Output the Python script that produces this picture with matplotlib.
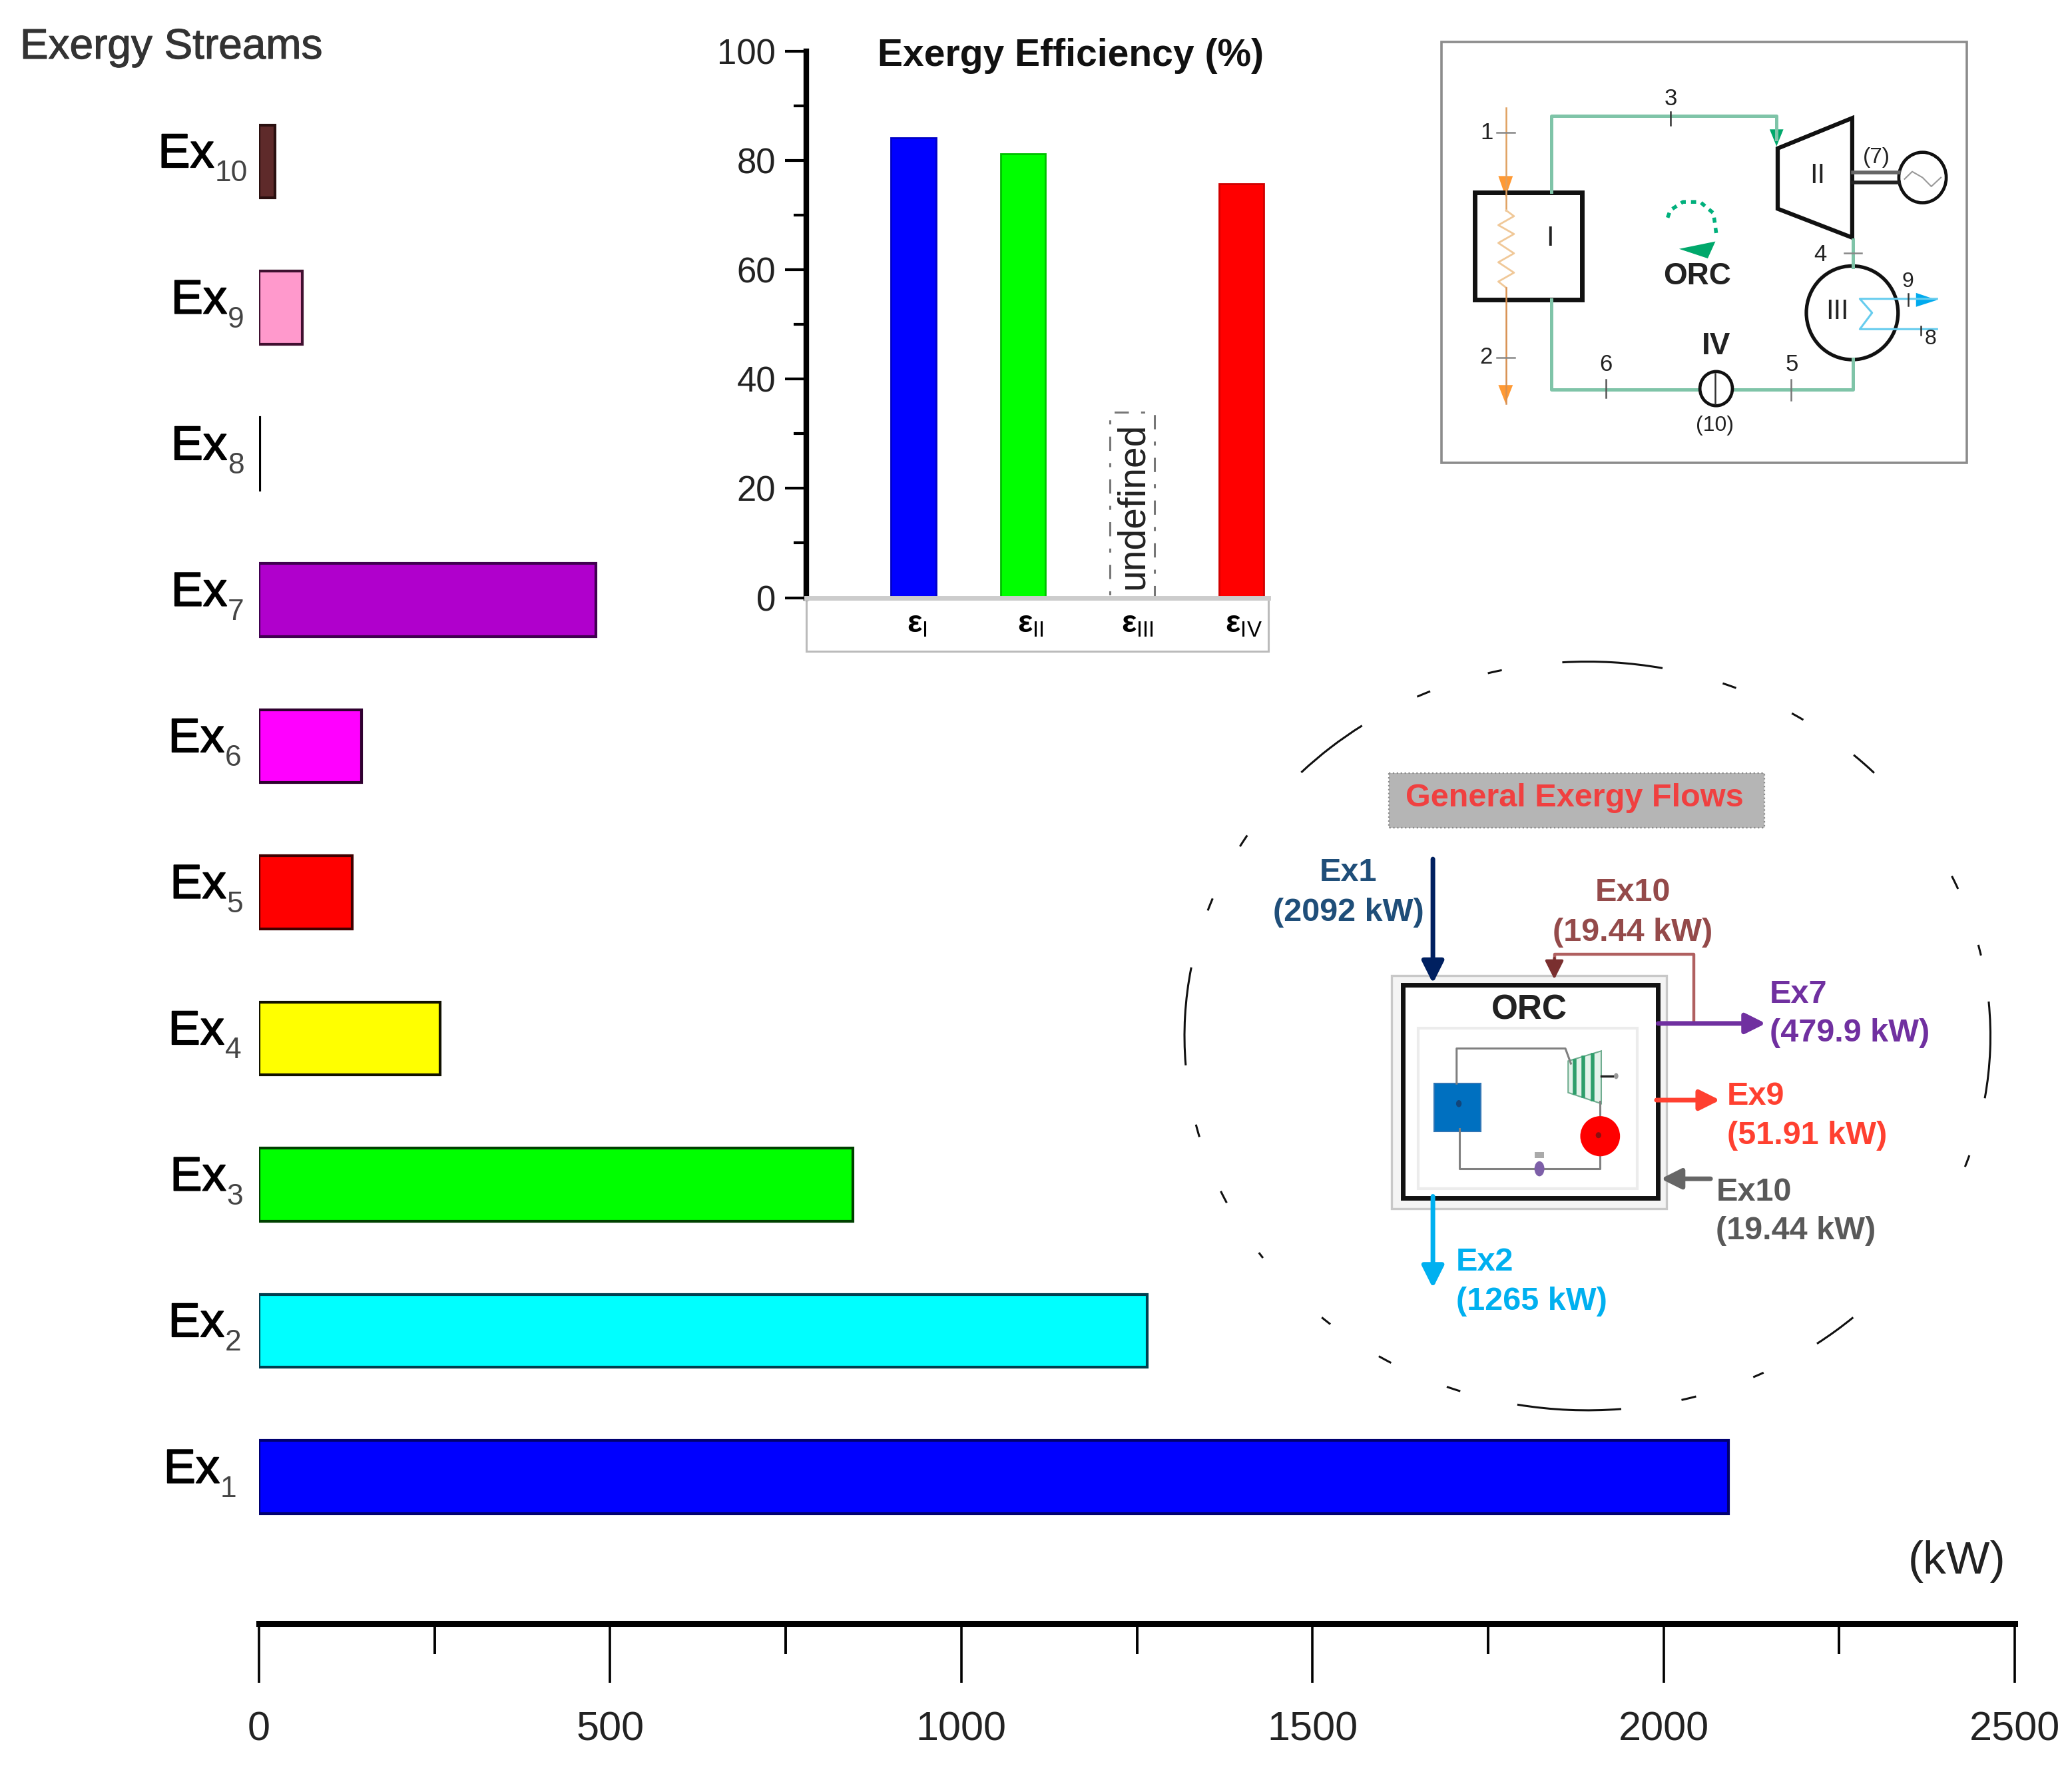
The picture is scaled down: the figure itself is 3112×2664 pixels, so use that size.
import matplotlib
matplotlib.use('Agg')
import matplotlib.pyplot as plt
import matplotlib.patheffects as pe
from matplotlib.patches import Rectangle, Ellipse, Arc, Polygon

plt.rcParams['font.family'] = ['Liberation Sans', 'DejaVu Sans']
plt.rcParams['mathtext.fontset'] = 'custom'
plt.rcParams['mathtext.rm'] = 'Liberation Sans'
plt.rcParams['mathtext.bf'] = 'Liberation Sans:bold'
plt.rcParams['mathtext.it'] = 'Liberation Sans:italic'

W, H = 3112, 2664

# exergy streams, bottom to top
streams = ['1', '2', '3', '4', '5', '6', '7', '8', '9', '10']
stream_kw = [2092, 1265, 846, 258, 133, 146, 479.9, 1, 62, 23]
stream_colors = ['#0000ff', '#00ffff', '#00ff00', '#ffff00', '#ff0000',
                 '#ff00ff', '#b000cc', '#000000', '#ff99cc', '#5e2a2a']
stream_edges = ['#000070', '#004050', '#004000', '#111100', '#400000',
                '#300030', '#400050', '#000000', '#401030', '#2a1010']
kw_major = [0, 500, 1000, 1500, 2000, 2500]
kw_minor = [250, 750, 1250, 1750, 2250]

# exergy efficiency
eff_pos = [1, 2, 4]
eff_vals = [84.2, 81.2, 75.7]
eff_colors = ['#0000ff', '#00ff00', '#ff0000']
eff_edges = ['#0000c8', '#00c000', '#d00000']
undef_pos = 3
undef_height = 34
eff_names = ['I', 'II', 'III', 'IV']
eff_major = [0, 20, 40, 60, 80, 100]
eff_minor = [10, 30, 50, 70, 90]

# gaps of the broken ring around the flow diagram (degrees)
ring_arcs = [(266.5, 280.5), (256, 258), (245.5, 247.5), (225.4, 236.6), (211, 213),
             (200, 202), (175.4, 190.8), (164, 166), (153, 155), (143, 144),
             (129, 130.6), (118.6, 120.6), (108, 110), (85.3, 99.8), (74.7, 76.8),
             (64.6, 66.2), (49.4, 55.9), (19, 20.9), (-5.4, 9.8), (-14.4, -12.7),
             (-25.8, -23.6), (-49.3, -45.3), (-60.1, -58.2), (-70.8, -68.8)]


def px_axes(x0, y0, x1, y1):
    return fig.add_axes([x0 / W, 1 - y1 / H, (x1 - x0) / W, (y1 - y0) / H])


def sketch_axes(x0, y0, w, h):
    # overlay whose coordinates run 0..1568 across the crop, y down
    a = px_axes(x0, y0, x0 + w, y0 + h)
    a.set_xlim(0, 1568)
    a.set_ylim(1568, 0)
    a.axis('off')
    a.patch.set_alpha(0)
    return a


def arrow(a, start, end, color, lw=4, scale=48):
    a.annotate('', xy=end, xytext=start,
               arrowprops=dict(arrowstyle='-|>', color=color, lw=lw,
                               mutation_scale=scale, shrinkA=0, shrinkB=0))


fig = plt.figure(figsize=(W / 100, H / 100), dpi=100)

# ---------- main horizontal bars ----------
ax = px_axes(389, 132.75, 3026, 2437.5)
y_pos = list(range(len(streams)))
ax.barh(y_pos, stream_kw, height=0.5, color=stream_colors,
        edgecolor=stream_edges, linewidth=3)
ax.set_xlim(0, 2500)
ax.set_ylim(-1, 9.5)
ax.set_yticks([])
# gap between subscript end and axis, in points
sub_gaps = [24, 19, 17, 19, 17, 19, 16, 16, 16, 12]
sub_width = {1: 18.5, 2: 36.5}
for y, name, gap in zip(y_pos, streams, sub_gaps):
    ax.annotate(name, xy=(0, y), xytext=(-gap, -13), textcoords='offset points',
                fontsize=32, color='#444444', ha='right', va='center')
    ax.annotate('Ex', xy=(0, y), xytext=(-gap - sub_width[len(name)], 7), textcoords='offset points',
                fontsize=52, color='black', ha='right', va='center',
                path_effects=[pe.withStroke(linewidth=1.2, foreground='black')])
ax.set_xticks(kw_major)
ax.set_xticks(kw_minor, minor=True)
ax.tick_params(axis='x', which='major', length=64, width=2.6, labelsize=44, pad=31,
               labelcolor='#222222')
ax.tick_params(axis='x', which='minor', length=33, width=2.8)
for side in ['top', 'left', 'right']:
    ax.spines[side].set_visible(False)
ax.spines['bottom'].set_linewidth(6.5)
ax.patch.set_alpha(0)

fig.text(30 / W, 1 - 71 / H, 'Exergy Streams', fontsize=46, color='#333333', va='center',
         path_effects=[pe.withStroke(linewidth=0.8, foreground='#333333')])
fig.text(2939 / W, 1 - 2345 / H, '(kW)', fontsize=50, color='#222222', ha='center', va='center')

# ---------- efficiency inset ----------
ax2 = px_axes(1211, 77, 1905, 897.5)
ax2.bar(eff_pos, eff_vals, width=0.41, color=eff_colors, edgecolor=eff_edges, linewidth=2)
ax2.bar([undef_pos], [undef_height], width=0.41, facecolor='none', edgecolor='#777777',
        linewidth=2.2, linestyle=(0, (7, 6, 2, 6)))
ax2.text(3.01, 16.8, 'undefined', rotation=90, fontsize=41, color='#222222',
         ha='center', va='center')
ax2.set_xlim(0.018, 4.248)
ax2.set_ylim(0, 100)
ax2.set_yticks(eff_major)
ax2.set_yticks(eff_minor, minor=True)
ax2.tick_params(axis='y', which='major', length=23, width=3, labelsize=38, pad=10,
                labelcolor='#222222')
ax2.tick_params(axis='y', which='minor', length=14, width=3)
ax2.set_xticks([1.03, 2.07, 3.05, 4.02])
ax2.set_xticklabels([r'$\mathbf{\varepsilon}_{\mathrm{%s}}$' % n for n in eff_names], fontsize=34)
ax2.tick_params(axis='x', length=0, pad=13)
for side in ['top', 'right']:
    ax2.spines[side].set_visible(False)
ax2.spines['left'].set_linewidth(6)
ax2.spines['bottom'].set_linewidth(5)
ax2.spines['bottom'].set_color('#cccccc')
ax2.add_patch(Rectangle((0, -80 / 820.5), 1, 80 / 820.5, transform=ax2.transAxes,
                        clip_on=False, fc='none', ec='#bbbbbb', lw=2.2))
ax2.patch.set_alpha(0)
fig.text(1608 / W, 1 - 84 / H, 'Exergy Efficiency (%)', fontsize=41, fontweight='bold',
         color='#111111', ha='center', va='center')

# ---------- ORC schematic, top right ----------
s = sketch_axes(2100, 30, 900, 700)
s.add_patch(Rectangle((113, 75), 1375, 1415, fc='white', ec='#8c8c8c', lw=2.6))

pipe = '#7fc4a8'
s.plot([400, 400, 990, 990], [578, 322, 322, 400], color=pipe, lw=3.6)
s.plot([400, 400, 790], [940, 1243, 1243], color=pipe, lw=3.6)
s.plot([875, 1190, 1190], [1243, 1243, 1140], color=pipe, lw=3.6)
s.plot([1190, 1190], [740, 830], color=pipe, lw=3.6)
s.add_patch(Polygon([(972, 368), (1008, 368), (990, 425)], fc='#00a86b', ec='none'))

orange = '#e0a060'
s.plot([282, 282], [295, 640], color=orange, lw=1.8)
s.plot([282, 303, 262, 303, 262, 303, 262, 303, 262, 282],
       [640, 660, 690, 720, 750, 785, 815, 850, 880, 900], color='#f0c898', lw=2)
s.plot([282, 282], [900, 1290], color='#d89050', lw=1.8)
s.add_patch(Polygon([(262, 525), (300, 525), (281, 595)], fc='#ff9933', ec='none'))
s.add_patch(Polygon([(262, 1228), (300, 1228), (281, 1290)], fc='#ff9933', ec='none'))
s.add_patch(Rectangle((200, 580), 280, 360, fc='none', ec='#111111', lw=5))

s.add_patch(Polygon([(993, 432), (1188, 330), (1188, 732), (993, 635)], fc='none',
                    ec='#111111', lw=4.5))
s.plot([1190, 1310], [512, 512], color='#666666', lw=4)
s.plot([1190, 1310], [547, 547], color='#222222', lw=4)
s.add_patch(Ellipse((1372, 530), 124, 170, fc='none', ec='#111111', lw=3.4))
s.plot([1325, 1345, 1372, 1395, 1420], [535, 510, 530, 560, 530], color='#999999', lw=1.5)

s.plot([705, 712, 745, 790, 825, 833], [665, 640, 612, 612, 650, 725], color='#00b07c', lw=4,
       linestyle=(0, (1.4, 1.4)))
s.add_patch(Polygon([(735, 770), (830, 745), (810, 802)], fc='#00a86b', ec='none'))

s.add_patch(Ellipse((1188, 985), 240, 315, fc='none', ec='#111111', lw=3.8))
s.plot([1410, 1208, 1240, 1208, 1410], [938, 938, 985, 1040, 1040], color='#66ccee', lw=2.2)
s.add_patch(Polygon([(1355, 918), (1355, 965), (1410, 942)], fc='#00aaee', ec='none'))

s.add_patch(Ellipse((832, 1240), 85, 115, fc='white', ec='#111111', lw=3.4, zorder=3))
s.plot([830, 830], [1190, 1290], color='#333333', lw=1.8, zorder=4)

for x0, y0, x1, y1, c in [(258, 378, 305, 378, '#888888'), (258, 1135, 305, 1135, '#888888'),
                          (713, 310, 713, 355, '#333333'), (1168, 785, 1212, 785, '#888888'),
                          (543, 1210, 543, 1270, '#555555'), (1028, 1210, 1028, 1280, '#777777'),
                          (1335, 920, 1335, 960, '#333333'), (1368, 1030, 1368, 1060, '#333333')]:
    s.plot([x0, x1], [y0, y1], color=c, lw=1.8, zorder=5)

for x, y, txt, size, weight in [
        (232, 380, '1', 25, 'normal'), (230, 1135, '2', 25, 'normal'), (713, 265, '3', 25, 'normal'),
        (1105, 790, '4', 25, 'normal'), (1030, 1160, '5', 25, 'normal'), (543, 1160, '6', 25, 'normal'),
        (1333, 880, '9', 23, 'normal'), (1393, 1072, '8', 23, 'normal'), (1252, 462, '(7)', 24, 'normal'),
        (828, 1365, '(10)', 23, 'normal'), (397, 735, 'I', 30, 'normal'), (1097, 525, 'II', 30, 'normal'),
        (1148, 982, 'III', 30, 'normal'), (832, 1098, 'IV', 33, 'bold'), (782, 862, 'ORC', 33, 'bold')]:
    s.text(x, y, txt, fontsize=size, fontweight=weight, color='#222222', ha='center', va='center')

# ---------- general exergy flows, lower right ----------
g = sketch_axes(1750, 980, 1300, 1180)
for t1, t2 in ring_arcs:
    g.add_patch(Arc((765, 765), 1460, 1494, theta1=t1, theta2=t2, color='#111111', lw=2.2))

g.add_patch(Rectangle((405, 240), 680, 110, fc='#b5b5b5', ec='#8a8a8a', lw=1.6, linestyle=':'))
g.text(742, 291, 'General Exergy Flows', fontsize=35, fontweight='bold', color='#f04040',
       ha='center', va='center')

g.add_patch(Rectangle((410, 645), 498, 465, fc='#f4f4f4', ec='#c8c8c8', lw=2.4))
g.add_patch(Rectangle((430, 663), 463, 425, fc='white', ec='#111111', lw=5))
g.add_patch(Rectangle((458, 750), 397, 320, fc='white', ec='#ececec', lw=3))
g.text(660, 714, 'ORC', fontsize=37, fontweight='bold', color='#222222', ha='center', va='center')

loop = '#808080'
g.plot([528, 528, 725, 735], [860, 790, 790, 820], color=loop, lw=2.2)
g.plot([533, 533, 788, 788], [950, 1030, 1030, 1000], color=loop, lw=2.2)
g.plot([788, 788], [925, 895], color=loop, lw=2.2)
g.add_patch(Rectangle((487, 860), 85, 95, fc='#0070c0', ec='#2e75b6', lw=1.5))
g.add_patch(Ellipse((532, 900), 10, 14, fc='#12457a', ec='none'))
g.add_patch(Polygon([(730, 815), (790, 795), (790, 900), (730, 878)], fc='#e4f2ea', ec='#70ad90', lw=1.5))
for x, y0, y1 in [(742, 815, 878), (758, 808, 885), (774, 802, 892)]:
    g.plot([x, x], [y0, y1], color='#2e9e6b', lw=4)
g.plot([790, 810], [845, 845], color='#222222', lw=2.5)
g.add_patch(Ellipse((817, 845), 8, 12, fc='#999999', ec='none'))
g.add_patch(Ellipse((788, 965), 72, 80, fc='#ff0000', ec='none', zorder=3))
g.add_patch(Ellipse((785, 963), 10, 12, fc='#8a1010', ec='none', zorder=4))
g.add_patch(Ellipse((678, 1030), 18, 30, fc='#7d5fa8', ec='none', zorder=3))
g.add_patch(Rectangle((670, 997), 16, 12, fc='#aaaaaa', ec='none'))

arrow(g, (485, 412), (485, 660), '#002060', lw=5, scale=50)
arrow(g, (485, 1085), (485, 1268), '#00b0f0', lw=5, scale=50)
arrow(g, (893, 740), (1088, 740), '#7030a0', lw=5, scale=46)
arrow(g, (890, 893), (1005, 893), '#ff4030', lw=5, scale=46)
arrow(g, (988, 1050), (898, 1050), '#666666', lw=5, scale=46)
g.plot([958, 958, 705, 705], [740, 602, 602, 625], color='#b06060', lw=3.2)
arrow(g, (705, 610), (705, 652), '#7a2f2f', lw=3, scale=42)

# exergy flow labels: x, y1, y2, name, amount, colour, alignment
for x, y1, y2, name, amount, color, ha in [
        (332, 437, 517, 'Ex1', '(2092 kW)', '#1f4e79', 'center'),
        (847, 477, 557, 'Ex10', '(19.44 kW)', '#944a4a', 'center'),
        (1095, 680, 758, 'Ex7', '(479.9 kW)', '#7030a0', 'left'),
        (1018, 883, 962, 'Ex9', '(51.91 kW)', '#ff4030', 'left'),
        (998, 1075, 1152, 'Ex10', '(19.44 kW)', '#595959', 'left'),
        (527, 1214, 1293, 'Ex2', '(1265 kW)', '#00b0f0', 'left')]:
    g.text(x, y1 + 2, name, fontsize=35, fontweight='bold', color=color, ha=ha, va='center')
    g.text(x, y2 + 2, amount, fontsize=35, fontweight='bold', color=color, ha=ha, va='center')

fig.savefig('out.png', dpi=100)
plt.close(fig)
